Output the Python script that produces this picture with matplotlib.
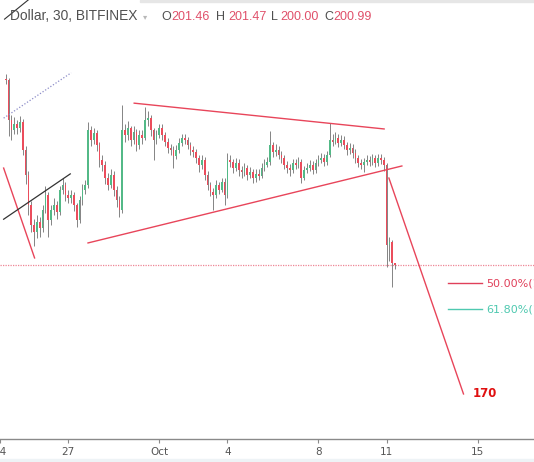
import matplotlib
matplotlib.use('Agg')
import matplotlib.pyplot as plt
import numpy as np

# 30 min ETH/USD chart, resampled to one candle every 3 hours (day numbers, Oct 1 = 31)
start_day = 24.25
step = 0.125
first_open = 245.8
closes = [245.5, 235.9, 233.4, 234.9, 233.9, 235.4, 228.6, 222.6, 215.4, 210.6,
          208.9, 211.3, 209.9, 214.2, 217.8, 211.8, 214.2, 215.4, 213.7, 219.0,
          220.2, 217.8, 217.1, 217.8, 215.4, 211.8, 216.6, 219.0, 220.2, 233.4,
          231.0, 232.7, 229.8, 226.2, 225.0, 221.9, 220.2, 222.6, 219.0, 216.6,
          214.2, 233.4, 232.2, 233.9, 231.0, 233.0, 229.8, 232.2, 231.5, 235.9,
          236.3, 233.4, 231.0, 232.2, 233.9, 232.2, 230.6, 229.1, 228.6, 227.2,
          228.6, 230.3, 231.5, 231.0, 229.8, 228.6, 228.2, 226.7, 225.0, 226.2,
          222.6, 220.2, 218.5, 217.8, 220.2, 219.0, 221.0, 217.8, 226.2, 225.8,
          224.3, 225.5, 223.8, 223.3, 224.3, 222.6, 223.3, 221.9, 222.9, 222.4,
          224.3, 225.0, 225.8, 229.8, 228.2, 228.6, 227.4, 226.7, 225.0, 224.3,
          223.8, 225.5, 225.0, 225.8, 221.9, 223.8, 224.3, 225.0, 223.8, 225.5,
          226.2, 226.7, 225.8, 227.4, 231.0, 230.6, 231.5, 230.3, 231.0, 229.8,
          228.6, 229.1, 227.9, 226.7, 225.5, 225.0, 225.8, 226.2, 225.8, 226.7,
          225.5, 226.7, 226.2, 225.0, 205.8, 206.5, 201.46, 200.99]
highs = [246.8, 245.9, 237.0, 236.6, 235.8, 236.8, 236.0, 229.5, 223.5, 216.5,
         212.0, 213.0, 212.5, 215.5, 220.0, 218.5, 215.5, 217.0, 216.5, 220.0,
         221.9, 221.0, 219.0, 219.0, 218.5, 216.0, 217.5, 220.5, 221.5, 235.4,
         234.5, 234.0, 233.5, 230.5, 227.5, 226.0, 223.0, 224.0, 223.5, 220.0,
         217.5, 239.4, 235.0, 235.5, 234.5, 234.5, 233.8, 233.5, 233.5, 239.0,
         238.0, 237.0, 234.0, 233.5, 235.0, 234.8, 233.0, 231.5, 230.0, 229.5,
         229.8, 231.5, 232.5, 232.5, 231.8, 230.5, 229.5, 229.0, 227.5, 227.5,
         227.0, 223.5, 221.0, 219.5, 221.5, 221.0, 222.0, 222.0, 227.9, 227.5,
         226.5, 226.8, 226.5, 224.8, 225.5, 225.0, 224.5, 224.0, 224.0, 224.0,
         225.5, 226.5, 227.0, 233.3, 230.5, 230.0, 229.5, 228.5, 227.5, 226.0,
         225.3, 226.5, 226.5, 227.0, 226.5, 224.8, 225.5, 226.3, 226.0, 226.5,
         227.5, 228.0, 227.8, 228.5, 235.1, 232.5, 233.0, 232.5, 232.3, 232.0,
         230.5, 230.3, 230.0, 228.8, 227.5, 226.5, 226.8, 227.5, 227.3, 227.8,
         227.5, 227.8, 227.8, 227.0, 225.5, 207.8, 207.0, 201.47]
lows = [244.6, 232.0, 231.0, 232.6, 232.5, 233.0, 227.4, 220.5, 213.0, 209.0,
        205.5, 207.5, 207.8, 209.0, 213.5, 207.7, 210.5, 213.0, 212.0, 213.0,
        218.0, 216.5, 215.8, 216.0, 214.0, 210.1, 211.0, 215.5, 218.0, 219.5,
        229.5, 230.0, 228.5, 224.5, 223.5, 220.5, 219.0, 219.5, 217.5, 215.0,
        212.5, 213.5, 230.5, 231.0, 229.5, 230.0, 228.5, 229.0, 230.0, 231.0,
        234.5, 232.0, 226.2, 230.0, 231.5, 231.0, 229.5, 228.0, 227.5, 224.3,
        226.5, 228.0, 229.5, 230.0, 228.8, 227.5, 227.0, 225.5, 223.3, 224.0,
        221.5, 219.0, 217.5, 214.2, 217.0, 218.0, 218.5, 215.4, 217.0, 224.5,
        223.0, 223.5, 222.5, 222.0, 222.5, 221.5, 221.8, 220.8, 221.0, 221.5,
        221.8, 223.5, 224.5, 225.0, 227.0, 227.3, 226.5, 225.5, 224.0, 223.0,
        222.5, 223.0, 224.0, 224.3, 220.7, 221.5, 223.0, 223.5, 222.8, 223.0,
        224.8, 225.5, 224.8, 225.0, 227.0, 229.5, 230.0, 229.3, 229.5, 228.8,
        227.5, 227.8, 226.8, 225.5, 224.5, 224.0, 223.3, 225.0, 224.8, 225.0,
        224.5, 224.8, 225.2, 223.5, 200.5, 202.0, 195.7, 200.00]

# drawings: (day0, price0, day1, price1)
wedge_top = (29.90, 239.9, 40.89, 233.7)
wedge_bottom = (27.87, 206.3, 41.67, 224.8)
target_leg = (41.10, 221.9, 44.38, 170.0)
left_leg = (24.16, 224.3, 25.52, 202.7)
channel_line = (24.16, 212.0, 27.09, 222.9)
dotted_line = (24.16, 236.3, 27.13, 247.2)
corner_line = (24.20, 260.1, 25.51, 265.9)

last_price = 200.99
fib_labels = ['50.00%(196.67)', '61.80%(190.40)']
fib_prices = [196.67, 190.40]
fib_colors = ['#e0405a', '#4fc9b0']

tick_days = [24, 27, 31, 34, 38, 41, 45]
tick_labels = ['24', '27', 'Oct', '4', '8', '11', '15']

up_color = '#53b987'
down_color = '#eb4d5c'
wick_color = '#707070'
line_red = '#e8455a'

fig = plt.figure(figsize=(5.34, 4.62), dpi=100)
ax = fig.add_axes([0, 23 / 462, 1, 439 / 462])

days = start_day + step * np.arange(len(closes))
opens = [first_open] + closes[:-1]
colors = [up_color if c >= o else down_color for o, c in zip(opens, closes)]

ax.vlines(days, lows, highs, colors=wick_color, linewidth=0.6, zorder=3)
bottoms = [min(o, c) for o, c in zip(opens, closes)]
heights = [max(abs(c - o), 0.15) for o, c in zip(opens, closes)]
ax.bar(days, heights, bottom=bottoms, width=0.075, color=colors, linewidth=0, zorder=4)

for d0, p0, d1, p1 in [wedge_top, wedge_bottom, target_leg, left_leg]:
    ax.plot([d0, d1], [p0, p1], color=line_red, linewidth=1.0, zorder=5)
ax.plot(channel_line[::2], channel_line[1::2], color='#333333', linewidth=0.9, zorder=5)
ax.plot(dotted_line[::2], dotted_line[1::2], color='#8c8cc8', linewidth=0.9,
        linestyle=(0, (1, 1.5)), zorder=5)
ax.plot(corner_line[::2], corner_line[1::2], color='#333333', linewidth=0.8, zorder=5)

ax.axhline(last_price, color='#ee8595', linewidth=0.9, linestyle=(0, (1, 1)), zorder=2)

for lbl, p, col in zip(fib_labels, fib_prices, fib_colors):
    ax.plot([43.72, 45.21], [p, p], color=col, linewidth=1.0)
    ax.text(45.38, p, lbl, color=col, fontsize=8, va='center', ha='left')

ax.text(44.77, 170.0, '170', color='#e01010', fontsize=8.5, fontweight='bold',
        va='center', ha='left')

ax.set_xlim(24.16, 47.48)
ax.set_ylim(159.17, 264.70)
ax.set_xticks(tick_days)
ax.set_xticklabels(tick_labels)
ax.tick_params(axis='x', length=3, color='#8a8a8a', labelsize=7.5,
               labelcolor='#555555', pad=3)
ax.set_yticks([])
for side in ['top', 'left', 'right']:
    ax.spines[side].set_visible(False)
ax.spines['bottom'].set_color('#8a8a8a')
ax.spines['bottom'].set_linewidth(1.0)

# header line, positions in pixels from top-left
def header(x, y, s, color, size=9.0):
    fig.text(x / 534, 1 - y / 462, s, color=color, fontsize=size, va='baseline',
             ha='left', family=['Liberation Sans', 'DejaVu Sans'])

gray = '#505050'
red = '#e0506a'
header(10, 20, 'Dollar, 30, BITFINEX', gray, 9.9)
header(143, 19, '\u25be', '#b8b8b8', 6)
header(161, 20, 'O', gray)
header(171, 20, '201.46', red)
header(216, 20, 'H', gray)
header(228, 20, '201.47', red)
header(271, 20, 'L', gray)
header(280, 20, '200.00', red)
header(324, 20, 'C', gray)
header(333, 20, '200.99', red)

fig.patches.append(plt.Rectangle((140 / 534, 1 - 2 / 462), 394 / 534, 2 / 462,
                                 transform=fig.transFigure, color='#e6e6e6'))
fig.patches.append(plt.Rectangle((0, 0), 1, 3 / 462, transform=fig.transFigure,
                                 color='#eef3f6'))

plt.savefig('out.png', dpi=100)
